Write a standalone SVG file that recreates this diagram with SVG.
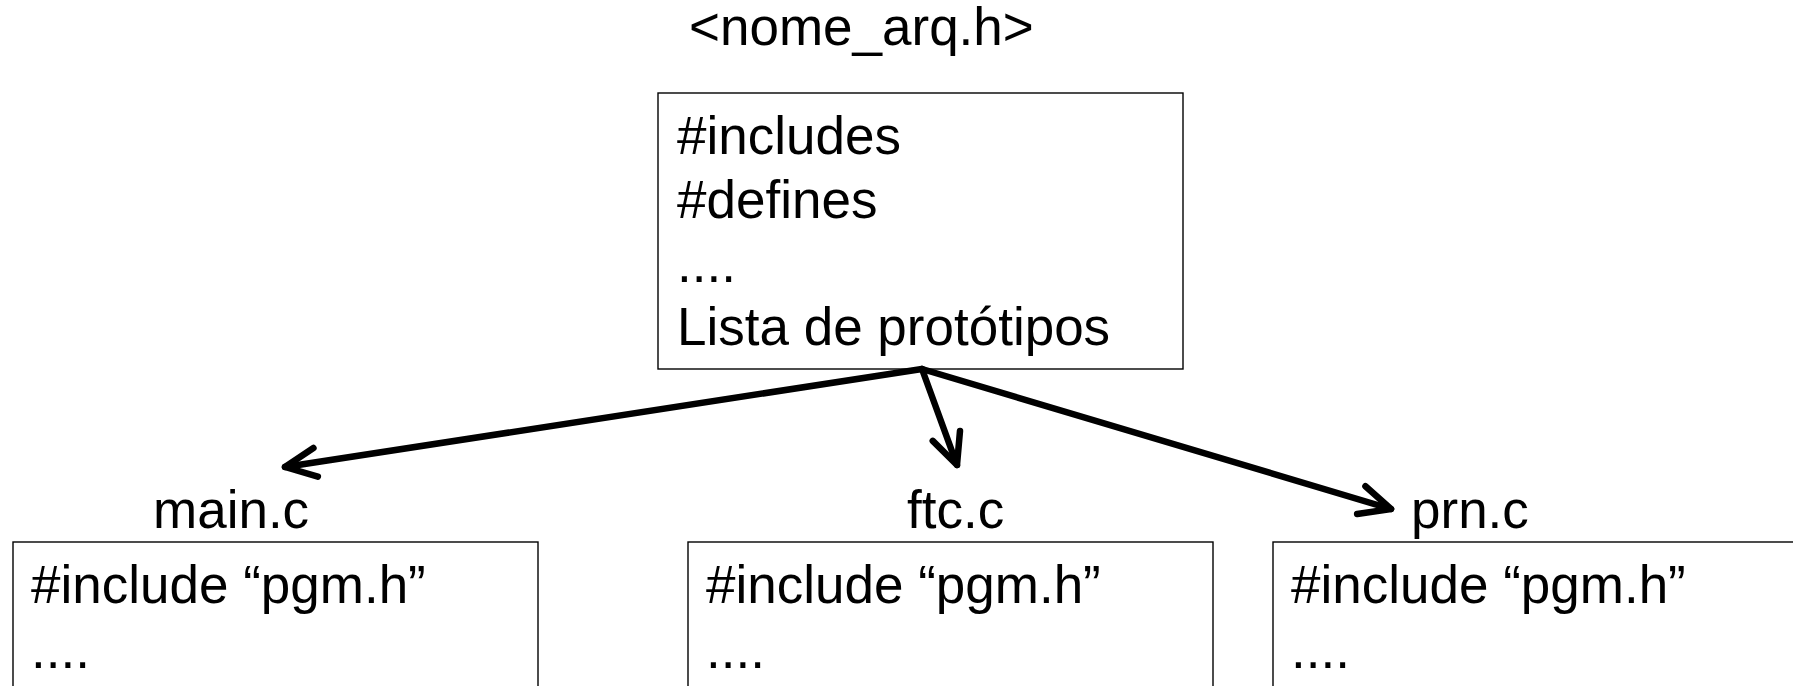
<svg xmlns="http://www.w3.org/2000/svg" width="1793" height="686" viewBox="0 0 1793 686">
<style>
.box{fill:#fff;stroke:#000;stroke-width:1.4}
.t{font-family:"Liberation Sans",Arial,sans-serif;font-size:53px;fill:#000}
.conn{fill:none;stroke:#000;stroke-width:6.5;stroke-linecap:round}
</style>
<defs>
<marker id="arr" markerUnits="userSpaceOnUse" orient="auto" markerWidth="80" markerHeight="80" refX="0" refY="0" overflow="visible">
<path d="M-31,-14.5 L0,0 L-31,14.5" fill="none" stroke="#000" stroke-width="6.5" stroke-linecap="round" stroke-linejoin="round"/>
</marker>
</defs>
<rect width="1793" height="686" fill="#fff"/>
<g id="header">
<text class="t" x="689" y="45">&lt;nome_arq.h&gt;</text>
<rect class="box" x="658" y="93" width="525" height="276"/>
<text class="t" x="677" y="154">#includes</text>
<text class="t" x="677" y="218">#defines</text>
<text class="t" x="677" y="282">....</text>
<text class="t" x="677" y="345">Lista de protótipos</text>
</g>
<g id="main">
<text class="t" x="153" y="528">main.c</text>
<rect class="box" x="13" y="542" width="525" height="160"/>
<text class="t" x="31" y="603">#include “pgm.h”</text>
<text class="t" x="31" y="668">....</text>
</g>
<g id="ftc">
<text class="t" x="907" y="528">ftc.c</text>
<rect class="box" x="688" y="542" width="525" height="160"/>
<text class="t" x="706" y="603">#include “pgm.h”</text>
<text class="t" x="706" y="668">....</text>
</g>
<g id="prn">
<text class="t" x="1411" y="528">prn.c</text>
<rect class="box" x="1273" y="542" width="560" height="160"/>
<text class="t" x="1291" y="603">#include “pgm.h”</text>
<text class="t" x="1291" y="668">....</text>
</g>
<g id="connectors">
<path class="conn" d="M922,369 L285,467" marker-end="url(#arr)"/>
<path class="conn" d="M922,369 L957,465" marker-end="url(#arr)"/>
<path class="conn" d="M922,369 L1391,509" marker-end="url(#arr)"/>
</g>
</svg>
